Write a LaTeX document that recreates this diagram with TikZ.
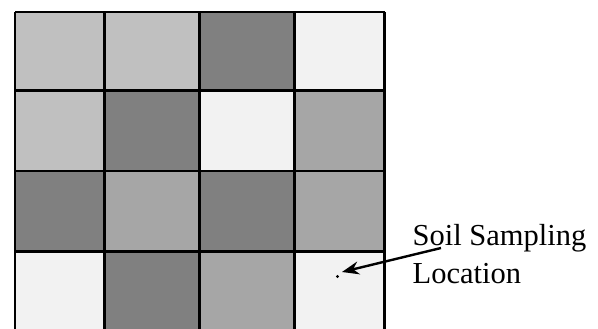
\documentclass[tikz,border=0pt]{standalone}
\usepackage{fontspec}
\setmainfont{Liberation Serif}
\usetikzlibrary{arrows.meta}
\definecolor{cA}{HTML}{C0C0C0}
\definecolor{cB}{HTML}{808080}
\definecolor{cC}{HTML}{F2F2F2}
\definecolor{cD}{HTML}{A6A6A6}
\begin{document}
\begin{tikzpicture}[x=1pt,y=-1pt,
  gridline/.style={line width=2.6pt,black},
  lbl/.style={font=\fontsize{30.5}{36}\selectfont,inner sep=0pt,anchor=base west},
  pointer/.style={line width=2.4pt,-{Stealth[length=17pt,width=13pt]}}]
\useasboundingbox (0,0) rectangle (598,329);
\begin{scope}
\clip (0,0) rectangle (598,329);
\def\xa{15}\def\xb{104.5}\def\xc{199.5}\def\xd{294.5}\def\xe{384.5}
\def\ya{12}\def\yb{90.5}\def\yc{171}\def\yd{251.5}\def\ye{332}
% row 1
\fill[cA] (\xa,\ya) rectangle (\xb,\yb);
\fill[cA] (\xb,\ya) rectangle (\xc,\yb);
\fill[cB] (\xc,\ya) rectangle (\xd,\yb);
\fill[cC] (\xd,\ya) rectangle (\xe,\yb);
% row 2
\fill[cA] (\xa,\yb) rectangle (\xb,\yc);
\fill[cB] (\xb,\yb) rectangle (\xc,\yc);
\fill[cC] (\xc,\yb) rectangle (\xd,\yc);
\fill[cD] (\xd,\yb) rectangle (\xe,\yc);
% row 3
\fill[cB] (\xa,\yc) rectangle (\xb,\yd);
\fill[cD] (\xb,\yc) rectangle (\xc,\yd);
\fill[cB] (\xc,\yc) rectangle (\xd,\yd);
\fill[cD] (\xd,\yc) rectangle (\xe,\yd);
% row 4
\fill[cC] (\xa,\yd) rectangle (\xb,\ye);
\fill[cB] (\xb,\yd) rectangle (\xc,\ye);
\fill[cD] (\xc,\yd) rectangle (\xe,\ye);
\fill[cC] (\xd,\yd) rectangle (\xe,\ye);
% grid lines
\foreach \x in {\xa,\xb,\xc,\xd,\xe} \draw[gridline] (\x,\ya) -- (\x,\ye);
\foreach \y in {\ya,\yb,\yc,\yd,\ye} \draw[gridline] (\xa,\y) -- (\xe,\y);
\end{scope}
\fill[black] (337.5,276.5) circle (1.6pt);
\node[lbl] (t1) at (412.5,245) {Soil Sampling};
\node[lbl] (t2) at (412.5,283) {Location};
\coordinate (s) at (441,248);
\coordinate (p) at (342,272);
\draw[pointer] (s) -- (p);
\end{tikzpicture}
\end{document}
